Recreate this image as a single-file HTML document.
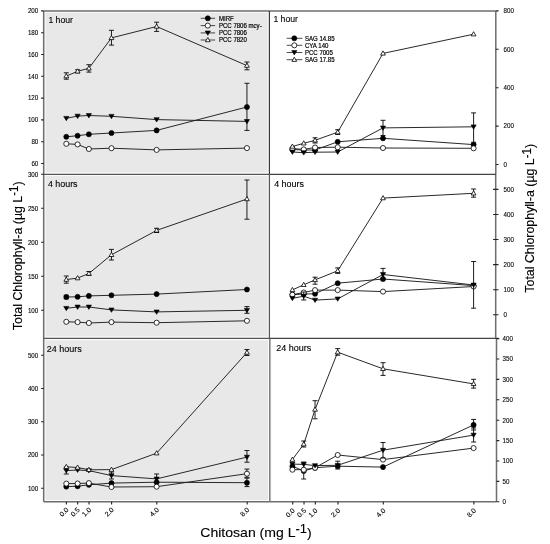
<!DOCTYPE html>
<html><head><meta charset="utf-8"><style>html,body{margin:0;padding:0;background:#fff;width:550px;height:544px;overflow:hidden}svg{display:block;filter:grayscale(1) blur(0.45px)}</style></head>
<body>
<svg width="550" height="544" viewBox="0 0 550 544" font-family='"Liberation Sans", sans-serif'>
<rect width="550" height="544" fill="#fff"/>
<rect x="43.7" y="10.95" width="225.7" height="490.75" fill="#e8e8e8"/>
<path d="M43.7,10.95H269.4M43.7,174.3H269.4M43.7,338.4H269.4M43.7,501.7H269.4M43.7,10.95V501.7M269.4,10.95V338.4M269.8,338.4V501.7" stroke="#fbfbfb" stroke-width="3.6" fill="none"/>
<g>
<polyline points="66.30,136.80 77.59,135.70 88.88,134.30 111.46,133.00 156.62,130.40 246.94,107.00" fill="none" stroke="#1e1e1e" stroke-width="0.95"/>
<path d="M246.94,83.30V130.40M244.44,83.30H249.44M244.44,130.40H249.44" stroke="#111" stroke-width="0.95" fill="none"/>
<ellipse cx="66.30" cy="136.80" rx="2.55" ry="2.55" fill="#000" stroke="#000" stroke-width="0.6"/>
<ellipse cx="77.59" cy="135.70" rx="2.55" ry="2.55" fill="#000" stroke="#000" stroke-width="0.6"/>
<ellipse cx="88.88" cy="134.30" rx="2.55" ry="2.55" fill="#000" stroke="#000" stroke-width="0.6"/>
<ellipse cx="111.46" cy="133.00" rx="2.55" ry="2.55" fill="#000" stroke="#000" stroke-width="0.6"/>
<ellipse cx="156.62" cy="130.40" rx="2.55" ry="2.55" fill="#000" stroke="#000" stroke-width="0.6"/>
<ellipse cx="246.94" cy="107.00" rx="2.55" ry="2.55" fill="#000" stroke="#000" stroke-width="0.6"/>
<polyline points="66.30,143.80 77.59,144.40 88.88,149.00 111.46,148.20 156.62,149.90 246.94,148.10" fill="none" stroke="#1e1e1e" stroke-width="0.95"/>
<ellipse cx="66.30" cy="143.80" rx="2.55" ry="2.55" fill="#fff" stroke="#000" stroke-width="0.8"/>
<ellipse cx="77.59" cy="144.40" rx="2.55" ry="2.55" fill="#fff" stroke="#000" stroke-width="0.8"/>
<ellipse cx="88.88" cy="149.00" rx="2.55" ry="2.55" fill="#fff" stroke="#000" stroke-width="0.8"/>
<ellipse cx="111.46" cy="148.20" rx="2.55" ry="2.55" fill="#fff" stroke="#000" stroke-width="0.8"/>
<ellipse cx="156.62" cy="149.90" rx="2.55" ry="2.55" fill="#fff" stroke="#000" stroke-width="0.8"/>
<ellipse cx="246.94" cy="148.10" rx="2.55" ry="2.55" fill="#fff" stroke="#000" stroke-width="0.8"/>
<polyline points="66.30,118.30 77.59,116.10 88.88,115.50 111.46,116.30 156.62,119.60 246.94,121.40" fill="none" stroke="#1e1e1e" stroke-width="0.95"/>
<path d="M63.70,116.40L68.90,116.40L66.30,120.70Z" fill="#000" stroke="#000" stroke-width="0.6"/>
<path d="M74.99,114.20L80.19,114.20L77.59,118.50Z" fill="#000" stroke="#000" stroke-width="0.6"/>
<path d="M86.28,113.60L91.48,113.60L88.88,117.90Z" fill="#000" stroke="#000" stroke-width="0.6"/>
<path d="M108.86,114.40L114.06,114.40L111.46,118.70Z" fill="#000" stroke="#000" stroke-width="0.6"/>
<path d="M154.02,117.70L159.22,117.70L156.62,122.00Z" fill="#000" stroke="#000" stroke-width="0.6"/>
<path d="M244.34,119.50L249.54,119.50L246.94,123.80Z" fill="#000" stroke="#000" stroke-width="0.6"/>
<polyline points="66.30,76.10 77.59,71.30 88.88,68.30 111.46,37.90 156.62,26.50 246.94,65.60" fill="none" stroke="#1e1e1e" stroke-width="0.95"/>
<path d="M66.30,72.80V79.20M63.80,72.80H68.80M63.80,79.20H68.80" stroke="#111" stroke-width="0.95" fill="none"/>
<path d="M77.59,69.80V72.80M75.09,69.80H80.09M75.09,72.80H80.09" stroke="#111" stroke-width="0.95" fill="none"/>
<path d="M88.88,64.70V72.10M86.38,64.70H91.38M86.38,72.10H91.38" stroke="#111" stroke-width="0.95" fill="none"/>
<path d="M111.46,30.30V45.10M108.96,30.30H113.96M108.96,45.10H113.96" stroke="#111" stroke-width="0.95" fill="none"/>
<path d="M156.62,22.20V31.40M154.12,22.20H159.12M154.12,31.40H159.12" stroke="#111" stroke-width="0.95" fill="none"/>
<path d="M246.94,62.00V69.80M244.44,62.00H249.44M244.44,69.80H249.44" stroke="#111" stroke-width="0.95" fill="none"/>
<path d="M63.90,77.80L68.70,77.80L66.30,73.60Z" fill="#fff" stroke="#000" stroke-width="0.8"/>
<path d="M75.19,73.00L79.99,73.00L77.59,68.80Z" fill="#fff" stroke="#000" stroke-width="0.8"/>
<path d="M86.48,70.00L91.28,70.00L88.88,65.80Z" fill="#fff" stroke="#000" stroke-width="0.8"/>
<path d="M109.06,39.60L113.86,39.60L111.46,35.40Z" fill="#fff" stroke="#000" stroke-width="0.8"/>
<path d="M154.22,28.20L159.02,28.20L156.62,24.00Z" fill="#fff" stroke="#000" stroke-width="0.8"/>
<path d="M244.54,67.30L249.34,67.30L246.94,63.10Z" fill="#fff" stroke="#000" stroke-width="0.8"/>
<polyline points="292.40,149.50 303.72,150.00 315.05,150.00 337.70,141.80 383.00,138.30 473.60,144.60" fill="none" stroke="#1e1e1e" stroke-width="0.95"/>
<ellipse cx="292.40" cy="149.50" rx="2.55" ry="2.55" fill="#000" stroke="#000" stroke-width="0.6"/>
<ellipse cx="303.72" cy="150.00" rx="2.55" ry="2.55" fill="#000" stroke="#000" stroke-width="0.6"/>
<ellipse cx="315.05" cy="150.00" rx="2.55" ry="2.55" fill="#000" stroke="#000" stroke-width="0.6"/>
<ellipse cx="337.70" cy="141.80" rx="2.55" ry="2.55" fill="#000" stroke="#000" stroke-width="0.6"/>
<ellipse cx="383.00" cy="138.30" rx="2.55" ry="2.55" fill="#000" stroke="#000" stroke-width="0.6"/>
<ellipse cx="473.60" cy="144.60" rx="2.55" ry="2.55" fill="#000" stroke="#000" stroke-width="0.6"/>
<polyline points="292.40,148.60 303.72,149.40 315.05,147.50 337.70,147.20 383.00,148.00 473.60,148.30" fill="none" stroke="#1e1e1e" stroke-width="0.95"/>
<ellipse cx="292.40" cy="148.60" rx="2.55" ry="2.55" fill="#fff" stroke="#000" stroke-width="0.8"/>
<ellipse cx="303.72" cy="149.40" rx="2.55" ry="2.55" fill="#fff" stroke="#000" stroke-width="0.8"/>
<ellipse cx="315.05" cy="147.50" rx="2.55" ry="2.55" fill="#fff" stroke="#000" stroke-width="0.8"/>
<ellipse cx="337.70" cy="147.20" rx="2.55" ry="2.55" fill="#fff" stroke="#000" stroke-width="0.8"/>
<ellipse cx="383.00" cy="148.00" rx="2.55" ry="2.55" fill="#fff" stroke="#000" stroke-width="0.8"/>
<ellipse cx="473.60" cy="148.30" rx="2.55" ry="2.55" fill="#fff" stroke="#000" stroke-width="0.8"/>
<polyline points="292.40,152.00 303.72,152.70 315.05,152.20 337.70,152.00 383.00,127.90 473.60,126.80" fill="none" stroke="#1e1e1e" stroke-width="0.95"/>
<path d="M383.00,120.30V135.50M380.50,120.30H385.50M380.50,135.50H385.50" stroke="#111" stroke-width="0.95" fill="none"/>
<path d="M473.60,112.90V142.30M471.10,112.90H476.10M471.10,142.30H476.10" stroke="#111" stroke-width="0.95" fill="none"/>
<path d="M289.80,150.10L295.00,150.10L292.40,154.40Z" fill="#000" stroke="#000" stroke-width="0.6"/>
<path d="M301.12,150.80L306.32,150.80L303.72,155.10Z" fill="#000" stroke="#000" stroke-width="0.6"/>
<path d="M312.45,150.30L317.65,150.30L315.05,154.60Z" fill="#000" stroke="#000" stroke-width="0.6"/>
<path d="M335.10,150.10L340.30,150.10L337.70,154.40Z" fill="#000" stroke="#000" stroke-width="0.6"/>
<path d="M380.40,126.00L385.60,126.00L383.00,130.30Z" fill="#000" stroke="#000" stroke-width="0.6"/>
<path d="M471.00,124.90L476.20,124.90L473.60,129.20Z" fill="#000" stroke="#000" stroke-width="0.6"/>
<polyline points="292.40,146.50 303.72,143.30 315.05,140.30 337.70,132.20 383.00,53.40 473.60,34.20" fill="none" stroke="#1e1e1e" stroke-width="0.95"/>
<path d="M315.05,137.80V143.00M312.55,137.80H317.55M312.55,143.00H317.55" stroke="#111" stroke-width="0.95" fill="none"/>
<path d="M337.70,129.70V134.50M335.20,129.70H340.20M335.20,134.50H340.20" stroke="#111" stroke-width="0.95" fill="none"/>
<path d="M290.00,148.20L294.80,148.20L292.40,144.00Z" fill="#fff" stroke="#000" stroke-width="0.8"/>
<path d="M301.32,145.00L306.12,145.00L303.72,140.80Z" fill="#fff" stroke="#000" stroke-width="0.8"/>
<path d="M312.65,142.00L317.45,142.00L315.05,137.80Z" fill="#fff" stroke="#000" stroke-width="0.8"/>
<path d="M335.30,133.90L340.10,133.90L337.70,129.70Z" fill="#fff" stroke="#000" stroke-width="0.8"/>
<path d="M380.60,55.10L385.40,55.10L383.00,50.90Z" fill="#fff" stroke="#000" stroke-width="0.8"/>
<path d="M471.20,35.90L476.00,35.90L473.60,31.70Z" fill="#fff" stroke="#000" stroke-width="0.8"/>
<polyline points="66.30,297.00 77.59,296.80 88.88,295.90 111.46,295.30 156.62,294.10 246.94,289.50" fill="none" stroke="#1e1e1e" stroke-width="0.95"/>
<path d="M66.30,295.20V298.80M63.80,295.20H68.80M63.80,298.80H68.80" stroke="#111" stroke-width="0.95" fill="none"/>
<ellipse cx="66.30" cy="297.00" rx="2.55" ry="2.55" fill="#000" stroke="#000" stroke-width="0.6"/>
<ellipse cx="77.59" cy="296.80" rx="2.55" ry="2.55" fill="#000" stroke="#000" stroke-width="0.6"/>
<ellipse cx="88.88" cy="295.90" rx="2.55" ry="2.55" fill="#000" stroke="#000" stroke-width="0.6"/>
<ellipse cx="111.46" cy="295.30" rx="2.55" ry="2.55" fill="#000" stroke="#000" stroke-width="0.6"/>
<ellipse cx="156.62" cy="294.10" rx="2.55" ry="2.55" fill="#000" stroke="#000" stroke-width="0.6"/>
<ellipse cx="246.94" cy="289.50" rx="2.55" ry="2.55" fill="#000" stroke="#000" stroke-width="0.6"/>
<polyline points="66.30,321.80 77.59,322.10 88.88,323.00 111.46,322.10 156.62,322.70 246.94,320.80" fill="none" stroke="#1e1e1e" stroke-width="0.95"/>
<ellipse cx="66.30" cy="321.80" rx="2.55" ry="2.55" fill="#fff" stroke="#000" stroke-width="0.8"/>
<ellipse cx="77.59" cy="322.10" rx="2.55" ry="2.55" fill="#fff" stroke="#000" stroke-width="0.8"/>
<ellipse cx="88.88" cy="323.00" rx="2.55" ry="2.55" fill="#fff" stroke="#000" stroke-width="0.8"/>
<ellipse cx="111.46" cy="322.10" rx="2.55" ry="2.55" fill="#fff" stroke="#000" stroke-width="0.8"/>
<ellipse cx="156.62" cy="322.70" rx="2.55" ry="2.55" fill="#fff" stroke="#000" stroke-width="0.8"/>
<ellipse cx="246.94" cy="320.80" rx="2.55" ry="2.55" fill="#fff" stroke="#000" stroke-width="0.8"/>
<polyline points="66.30,308.30 77.59,307.00 88.88,307.00 111.46,309.90 156.62,311.90 246.94,310.30" fill="none" stroke="#1e1e1e" stroke-width="0.95"/>
<path d="M246.94,306.60V313.30M244.44,306.60H249.44M244.44,313.30H249.44" stroke="#111" stroke-width="0.95" fill="none"/>
<path d="M63.70,306.40L68.90,306.40L66.30,310.70Z" fill="#000" stroke="#000" stroke-width="0.6"/>
<path d="M74.99,305.10L80.19,305.10L77.59,309.40Z" fill="#000" stroke="#000" stroke-width="0.6"/>
<path d="M86.28,305.10L91.48,305.10L88.88,309.40Z" fill="#000" stroke="#000" stroke-width="0.6"/>
<path d="M108.86,308.00L114.06,308.00L111.46,312.30Z" fill="#000" stroke="#000" stroke-width="0.6"/>
<path d="M154.02,310.00L159.22,310.00L156.62,314.30Z" fill="#000" stroke="#000" stroke-width="0.6"/>
<path d="M244.34,308.40L249.54,308.40L246.94,312.70Z" fill="#000" stroke="#000" stroke-width="0.6"/>
<polyline points="66.30,279.60 77.59,278.10 88.88,273.50 111.46,254.80 156.62,230.40 246.94,199.00" fill="none" stroke="#1e1e1e" stroke-width="0.95"/>
<path d="M66.30,276.00V283.20M63.80,276.00H68.80M63.80,283.20H68.80" stroke="#111" stroke-width="0.95" fill="none"/>
<path d="M88.88,271.50V275.50M86.38,271.50H91.38M86.38,275.50H91.38" stroke="#111" stroke-width="0.95" fill="none"/>
<path d="M111.46,249.40V260.00M108.96,249.40H113.96M108.96,260.00H113.96" stroke="#111" stroke-width="0.95" fill="none"/>
<path d="M156.62,228.30V232.50M154.12,228.30H159.12M154.12,232.50H159.12" stroke="#111" stroke-width="0.95" fill="none"/>
<path d="M246.94,180.00V219.20M244.44,180.00H249.44M244.44,219.20H249.44" stroke="#111" stroke-width="0.95" fill="none"/>
<path d="M63.90,281.30L68.70,281.30L66.30,277.10Z" fill="#fff" stroke="#000" stroke-width="0.8"/>
<path d="M75.19,279.80L79.99,279.80L77.59,275.60Z" fill="#fff" stroke="#000" stroke-width="0.8"/>
<path d="M86.48,275.20L91.28,275.20L88.88,271.00Z" fill="#fff" stroke="#000" stroke-width="0.8"/>
<path d="M109.06,256.50L113.86,256.50L111.46,252.30Z" fill="#fff" stroke="#000" stroke-width="0.8"/>
<path d="M154.22,232.10L159.02,232.10L156.62,227.90Z" fill="#fff" stroke="#000" stroke-width="0.8"/>
<path d="M244.54,200.70L249.34,200.70L246.94,196.50Z" fill="#fff" stroke="#000" stroke-width="0.8"/>
<polyline points="292.40,294.70 303.72,294.00 315.05,293.80 337.70,283.20 383.00,279.00 473.60,285.60" fill="none" stroke="#1e1e1e" stroke-width="0.95"/>
<ellipse cx="292.40" cy="294.70" rx="2.55" ry="2.55" fill="#000" stroke="#000" stroke-width="0.6"/>
<ellipse cx="303.72" cy="294.00" rx="2.55" ry="2.55" fill="#000" stroke="#000" stroke-width="0.6"/>
<ellipse cx="315.05" cy="293.80" rx="2.55" ry="2.55" fill="#000" stroke="#000" stroke-width="0.6"/>
<ellipse cx="337.70" cy="283.20" rx="2.55" ry="2.55" fill="#000" stroke="#000" stroke-width="0.6"/>
<ellipse cx="383.00" cy="279.00" rx="2.55" ry="2.55" fill="#000" stroke="#000" stroke-width="0.6"/>
<ellipse cx="473.60" cy="285.60" rx="2.55" ry="2.55" fill="#000" stroke="#000" stroke-width="0.6"/>
<polyline points="292.40,294.70 303.72,292.50 315.05,290.10 337.70,290.10 383.00,291.60 473.60,286.50" fill="none" stroke="#1e1e1e" stroke-width="0.95"/>
<ellipse cx="292.40" cy="294.70" rx="2.55" ry="2.55" fill="#fff" stroke="#000" stroke-width="0.8"/>
<ellipse cx="303.72" cy="292.50" rx="2.55" ry="2.55" fill="#fff" stroke="#000" stroke-width="0.8"/>
<ellipse cx="315.05" cy="290.10" rx="2.55" ry="2.55" fill="#fff" stroke="#000" stroke-width="0.8"/>
<ellipse cx="337.70" cy="290.10" rx="2.55" ry="2.55" fill="#fff" stroke="#000" stroke-width="0.8"/>
<ellipse cx="383.00" cy="291.60" rx="2.55" ry="2.55" fill="#fff" stroke="#000" stroke-width="0.8"/>
<ellipse cx="473.60" cy="286.50" rx="2.55" ry="2.55" fill="#fff" stroke="#000" stroke-width="0.8"/>
<polyline points="292.40,298.30 303.72,296.20 315.05,300.10 337.70,298.90 383.00,274.50 473.60,285.00" fill="none" stroke="#1e1e1e" stroke-width="0.95"/>
<path d="M303.72,292.00V300.00M301.22,292.00H306.22M301.22,300.00H306.22" stroke="#111" stroke-width="0.95" fill="none"/>
<path d="M383.00,268.40V280.00M380.50,268.40H385.50M380.50,280.00H385.50" stroke="#111" stroke-width="0.95" fill="none"/>
<path d="M473.60,261.50V308.20M471.10,261.50H476.10M471.10,308.20H476.10" stroke="#111" stroke-width="0.95" fill="none"/>
<path d="M289.80,296.40L295.00,296.40L292.40,300.70Z" fill="#000" stroke="#000" stroke-width="0.6"/>
<path d="M301.12,294.30L306.32,294.30L303.72,298.60Z" fill="#000" stroke="#000" stroke-width="0.6"/>
<path d="M312.45,298.20L317.65,298.20L315.05,302.50Z" fill="#000" stroke="#000" stroke-width="0.6"/>
<path d="M335.10,297.00L340.30,297.00L337.70,301.30Z" fill="#000" stroke="#000" stroke-width="0.6"/>
<path d="M380.40,272.60L385.60,272.60L383.00,276.90Z" fill="#000" stroke="#000" stroke-width="0.6"/>
<path d="M471.00,283.10L476.20,283.10L473.60,287.40Z" fill="#000" stroke="#000" stroke-width="0.6"/>
<polyline points="292.40,289.90 303.72,284.80 315.05,279.90 337.70,270.80 383.00,198.10 473.60,193.30" fill="none" stroke="#1e1e1e" stroke-width="0.95"/>
<path d="M315.05,277.20V284.20M312.55,277.20H317.55M312.55,284.20H317.55" stroke="#111" stroke-width="0.95" fill="none"/>
<path d="M337.70,267.90V273.40M335.20,267.90H340.20M335.20,273.40H340.20" stroke="#111" stroke-width="0.95" fill="none"/>
<path d="M473.60,189.00V197.20M471.10,189.00H476.10M471.10,197.20H476.10" stroke="#111" stroke-width="0.95" fill="none"/>
<path d="M290.00,291.60L294.80,291.60L292.40,287.40Z" fill="#fff" stroke="#000" stroke-width="0.8"/>
<path d="M301.32,286.50L306.12,286.50L303.72,282.30Z" fill="#fff" stroke="#000" stroke-width="0.8"/>
<path d="M312.65,281.60L317.45,281.60L315.05,277.40Z" fill="#fff" stroke="#000" stroke-width="0.8"/>
<path d="M335.30,272.50L340.10,272.50L337.70,268.30Z" fill="#fff" stroke="#000" stroke-width="0.8"/>
<path d="M380.60,199.80L385.40,199.80L383.00,195.60Z" fill="#fff" stroke="#000" stroke-width="0.8"/>
<path d="M471.20,195.00L476.00,195.00L473.60,190.80Z" fill="#fff" stroke="#000" stroke-width="0.8"/>
<polyline points="66.30,486.60 77.59,486.20 88.88,484.80 111.46,483.10 156.62,482.20 246.94,482.70" fill="none" stroke="#1e1e1e" stroke-width="0.95"/>
<path d="M246.94,478.20V486.60M244.44,478.20H249.44M244.44,486.60H249.44" stroke="#111" stroke-width="0.95" fill="none"/>
<ellipse cx="66.30" cy="486.60" rx="2.55" ry="2.55" fill="#000" stroke="#000" stroke-width="0.6"/>
<ellipse cx="77.59" cy="486.20" rx="2.55" ry="2.55" fill="#000" stroke="#000" stroke-width="0.6"/>
<ellipse cx="88.88" cy="484.80" rx="2.55" ry="2.55" fill="#000" stroke="#000" stroke-width="0.6"/>
<ellipse cx="111.46" cy="483.10" rx="2.55" ry="2.55" fill="#000" stroke="#000" stroke-width="0.6"/>
<ellipse cx="156.62" cy="482.20" rx="2.55" ry="2.55" fill="#000" stroke="#000" stroke-width="0.6"/>
<ellipse cx="246.94" cy="482.70" rx="2.55" ry="2.55" fill="#000" stroke="#000" stroke-width="0.6"/>
<polyline points="66.30,483.60 77.59,483.50 88.88,483.10 111.46,487.00 156.62,486.70 246.94,473.70" fill="none" stroke="#1e1e1e" stroke-width="0.95"/>
<path d="M246.94,469.10V477.30M244.44,469.10H249.44M244.44,477.30H249.44" stroke="#111" stroke-width="0.95" fill="none"/>
<ellipse cx="66.30" cy="483.60" rx="2.55" ry="2.55" fill="#fff" stroke="#000" stroke-width="0.8"/>
<ellipse cx="77.59" cy="483.50" rx="2.55" ry="2.55" fill="#fff" stroke="#000" stroke-width="0.8"/>
<ellipse cx="88.88" cy="483.10" rx="2.55" ry="2.55" fill="#fff" stroke="#000" stroke-width="0.8"/>
<ellipse cx="111.46" cy="487.00" rx="2.55" ry="2.55" fill="#fff" stroke="#000" stroke-width="0.8"/>
<ellipse cx="156.62" cy="486.70" rx="2.55" ry="2.55" fill="#fff" stroke="#000" stroke-width="0.8"/>
<ellipse cx="246.94" cy="473.70" rx="2.55" ry="2.55" fill="#fff" stroke="#000" stroke-width="0.8"/>
<polyline points="66.30,470.60 77.59,470.00 88.88,470.60 111.46,475.60 156.62,478.90 246.94,457.10" fill="none" stroke="#1e1e1e" stroke-width="0.95"/>
<path d="M66.30,467.00V474.00M63.80,467.00H68.80M63.80,474.00H68.80" stroke="#111" stroke-width="0.95" fill="none"/>
<path d="M111.46,472.00V479.00M108.96,472.00H113.96M108.96,479.00H113.96" stroke="#111" stroke-width="0.95" fill="none"/>
<path d="M156.62,474.00V482.00M154.12,474.00H159.12M154.12,482.00H159.12" stroke="#111" stroke-width="0.95" fill="none"/>
<path d="M246.94,450.50V462.20M244.44,450.50H249.44M244.44,462.20H249.44" stroke="#111" stroke-width="0.95" fill="none"/>
<path d="M63.70,468.70L68.90,468.70L66.30,473.00Z" fill="#000" stroke="#000" stroke-width="0.6"/>
<path d="M74.99,468.10L80.19,468.10L77.59,472.40Z" fill="#000" stroke="#000" stroke-width="0.6"/>
<path d="M86.28,468.70L91.48,468.70L88.88,473.00Z" fill="#000" stroke="#000" stroke-width="0.6"/>
<path d="M108.86,473.70L114.06,473.70L111.46,478.00Z" fill="#000" stroke="#000" stroke-width="0.6"/>
<path d="M154.02,477.00L159.22,477.00L156.62,481.30Z" fill="#000" stroke="#000" stroke-width="0.6"/>
<path d="M244.34,455.20L249.54,455.20L246.94,459.50Z" fill="#000" stroke="#000" stroke-width="0.6"/>
<polyline points="66.30,466.80 77.59,467.50 88.88,469.80 111.46,469.60 156.62,453.20 246.94,352.50" fill="none" stroke="#1e1e1e" stroke-width="0.95"/>
<path d="M246.94,349.50V355.50M244.44,349.50H249.44M244.44,355.50H249.44" stroke="#111" stroke-width="0.95" fill="none"/>
<path d="M63.90,468.50L68.70,468.50L66.30,464.30Z" fill="#fff" stroke="#000" stroke-width="0.8"/>
<path d="M75.19,469.20L79.99,469.20L77.59,465.00Z" fill="#fff" stroke="#000" stroke-width="0.8"/>
<path d="M86.48,471.50L91.28,471.50L88.88,467.30Z" fill="#fff" stroke="#000" stroke-width="0.8"/>
<path d="M109.06,471.30L113.86,471.30L111.46,467.10Z" fill="#fff" stroke="#000" stroke-width="0.8"/>
<path d="M154.22,454.90L159.02,454.90L156.62,450.70Z" fill="#fff" stroke="#000" stroke-width="0.8"/>
<path d="M244.54,354.20L249.34,354.20L246.94,350.00Z" fill="#fff" stroke="#000" stroke-width="0.8"/>
<polyline points="292.40,466.20 303.72,471.00 315.05,467.70 337.70,466.20 383.00,467.10 473.60,424.90" fill="none" stroke="#1e1e1e" stroke-width="0.95"/>
<path d="M473.60,419.40V430.00M471.10,419.40H476.10M471.10,430.00H476.10" stroke="#111" stroke-width="0.95" fill="none"/>
<ellipse cx="292.40" cy="466.20" rx="2.55" ry="2.55" fill="#000" stroke="#000" stroke-width="0.6"/>
<ellipse cx="303.72" cy="471.00" rx="2.55" ry="2.55" fill="#000" stroke="#000" stroke-width="0.6"/>
<ellipse cx="315.05" cy="467.70" rx="2.55" ry="2.55" fill="#000" stroke="#000" stroke-width="0.6"/>
<ellipse cx="337.70" cy="466.20" rx="2.55" ry="2.55" fill="#000" stroke="#000" stroke-width="0.6"/>
<ellipse cx="383.00" cy="467.10" rx="2.55" ry="2.55" fill="#000" stroke="#000" stroke-width="0.6"/>
<ellipse cx="473.60" cy="424.90" rx="2.55" ry="2.55" fill="#000" stroke="#000" stroke-width="0.6"/>
<polyline points="292.40,469.70 303.72,469.70 315.05,467.80 337.70,455.00 383.00,459.60 473.60,448.10" fill="none" stroke="#1e1e1e" stroke-width="0.95"/>
<path d="M303.72,462.00V479.00M301.22,462.00H306.22M301.22,479.00H306.22" stroke="#111" stroke-width="0.95" fill="none"/>
<ellipse cx="292.40" cy="469.70" rx="2.55" ry="2.55" fill="#fff" stroke="#000" stroke-width="0.8"/>
<ellipse cx="303.72" cy="469.70" rx="2.55" ry="2.55" fill="#fff" stroke="#000" stroke-width="0.8"/>
<ellipse cx="315.05" cy="467.80" rx="2.55" ry="2.55" fill="#fff" stroke="#000" stroke-width="0.8"/>
<ellipse cx="337.70" cy="455.00" rx="2.55" ry="2.55" fill="#fff" stroke="#000" stroke-width="0.8"/>
<ellipse cx="383.00" cy="459.60" rx="2.55" ry="2.55" fill="#fff" stroke="#000" stroke-width="0.8"/>
<ellipse cx="473.60" cy="448.10" rx="2.55" ry="2.55" fill="#fff" stroke="#000" stroke-width="0.8"/>
<polyline points="292.40,464.10 303.72,464.40 315.05,465.60 337.70,465.30 383.00,450.20 473.60,435.10" fill="none" stroke="#1e1e1e" stroke-width="0.95"/>
<path d="M337.70,461.20V469.00M335.20,461.20H340.20M335.20,469.00H340.20" stroke="#111" stroke-width="0.95" fill="none"/>
<path d="M383.00,442.50V458.00M380.50,442.50H385.50M380.50,458.00H385.50" stroke="#111" stroke-width="0.95" fill="none"/>
<path d="M473.60,428.00V442.00M471.10,428.00H476.10M471.10,442.00H476.10" stroke="#111" stroke-width="0.95" fill="none"/>
<path d="M289.80,462.20L295.00,462.20L292.40,466.50Z" fill="#000" stroke="#000" stroke-width="0.6"/>
<path d="M301.12,462.50L306.32,462.50L303.72,466.80Z" fill="#000" stroke="#000" stroke-width="0.6"/>
<path d="M312.45,463.70L317.65,463.70L315.05,468.00Z" fill="#000" stroke="#000" stroke-width="0.6"/>
<path d="M335.10,463.40L340.30,463.40L337.70,467.70Z" fill="#000" stroke="#000" stroke-width="0.6"/>
<path d="M380.40,448.30L385.60,448.30L383.00,452.60Z" fill="#000" stroke="#000" stroke-width="0.6"/>
<path d="M471.00,433.20L476.20,433.20L473.60,437.50Z" fill="#000" stroke="#000" stroke-width="0.6"/>
<polyline points="292.40,459.60 303.72,444.20 315.05,409.50 337.70,352.20 383.00,368.80 473.60,383.90" fill="none" stroke="#1e1e1e" stroke-width="0.95"/>
<path d="M303.72,441.00V447.00M301.22,441.00H306.22M301.22,447.00H306.22" stroke="#111" stroke-width="0.95" fill="none"/>
<path d="M315.05,400.70V418.80M312.55,400.70H317.55M312.55,418.80H317.55" stroke="#111" stroke-width="0.95" fill="none"/>
<path d="M337.70,348.60V355.20M335.20,348.60H340.20M335.20,355.20H340.20" stroke="#111" stroke-width="0.95" fill="none"/>
<path d="M383.00,362.70V375.40M380.50,362.70H385.50M380.50,375.40H385.50" stroke="#111" stroke-width="0.95" fill="none"/>
<path d="M473.60,379.30V388.10M471.10,379.30H476.10M471.10,388.10H476.10" stroke="#111" stroke-width="0.95" fill="none"/>
<path d="M290.00,461.30L294.80,461.30L292.40,457.10Z" fill="#fff" stroke="#000" stroke-width="0.8"/>
<path d="M301.32,445.90L306.12,445.90L303.72,441.70Z" fill="#fff" stroke="#000" stroke-width="0.8"/>
<path d="M312.65,411.20L317.45,411.20L315.05,407.00Z" fill="#fff" stroke="#000" stroke-width="0.8"/>
<path d="M335.30,353.90L340.10,353.90L337.70,349.70Z" fill="#fff" stroke="#000" stroke-width="0.8"/>
<path d="M380.60,370.50L385.40,370.50L383.00,366.30Z" fill="#fff" stroke="#000" stroke-width="0.8"/>
<path d="M471.20,385.60L476.00,385.60L473.60,381.40Z" fill="#fff" stroke="#000" stroke-width="0.8"/>
</g>
<path d="M43.7,10.95H495.8 M43.7,501.7H496.5 M43.7,10.95V501.7 M495.8,10.95V174.3 M495.7,174.3V338.4 M496.5,338.4V501.7" stroke="#6e6e6e" stroke-width="1.5" fill="none"/>
<path d="M269.8,338.4V501.7" stroke="#7a7a7a" stroke-width="1.5" fill="none"/>
<path d="M43.7,174.3H269.4M43.7,338.4H269.4" stroke="#555" stroke-width="1.3" fill="none"/>
<path d="M269.4,174.3H495.8M269.4,338.4H498.5" stroke="#444" stroke-width="1.2" fill="none"/>
<path d="M269.4,10.95V174.3" stroke="#3a3a3a" stroke-width="1.2" fill="none"/>
<path d="M269.4,174.3V338.4" stroke="#555" stroke-width="1.2" fill="none"/>
<text transform="translate(38.30,13.20) scale(0.93,1)" font-size="6.7" text-anchor="end" stroke="#000" stroke-width="0.1">200</text>
<text transform="translate(38.30,35.00) scale(0.93,1)" font-size="6.7" text-anchor="end" stroke="#000" stroke-width="0.1">180</text>
<text transform="translate(38.30,56.80) scale(0.93,1)" font-size="6.7" text-anchor="end" stroke="#000" stroke-width="0.1">160</text>
<text transform="translate(38.30,78.60) scale(0.93,1)" font-size="6.7" text-anchor="end" stroke="#000" stroke-width="0.1">140</text>
<text transform="translate(38.30,100.40) scale(0.93,1)" font-size="6.7" text-anchor="end" stroke="#000" stroke-width="0.1">120</text>
<text transform="translate(38.30,122.20) scale(0.93,1)" font-size="6.7" text-anchor="end" stroke="#000" stroke-width="0.1">100</text>
<text transform="translate(38.30,144.00) scale(0.93,1)" font-size="6.7" text-anchor="end" stroke="#000" stroke-width="0.1">80</text>
<text transform="translate(38.30,165.80) scale(0.93,1)" font-size="6.7" text-anchor="end" stroke="#000" stroke-width="0.1">60</text>
<path d="M41.10,10.90H43.70 M41.10,32.70H43.70 M41.10,54.50H43.70 M41.10,76.30H43.70 M41.10,98.10H43.70 M41.10,119.90H43.70 M41.10,141.70H43.70 M41.10,163.50H43.70" stroke="#222" stroke-width="1.1"/>
<text transform="translate(38.30,176.60) scale(0.93,1)" font-size="6.7" text-anchor="end" stroke="#000" stroke-width="0.1">300</text>
<text transform="translate(38.30,210.60) scale(0.93,1)" font-size="6.7" text-anchor="end" stroke="#000" stroke-width="0.1">250</text>
<text transform="translate(38.30,244.60) scale(0.93,1)" font-size="6.7" text-anchor="end" stroke="#000" stroke-width="0.1">200</text>
<text transform="translate(38.30,278.60) scale(0.93,1)" font-size="6.7" text-anchor="end" stroke="#000" stroke-width="0.1">150</text>
<text transform="translate(38.30,312.60) scale(0.93,1)" font-size="6.7" text-anchor="end" stroke="#000" stroke-width="0.1">100</text>
<path d="M41.10,174.30H43.70 M41.10,208.30H43.70 M41.10,242.30H43.70 M41.10,276.30H43.70 M41.10,310.30H43.70" stroke="#222" stroke-width="1.1"/>
<text transform="translate(38.30,357.50) scale(0.93,1)" font-size="6.7" text-anchor="end" stroke="#000" stroke-width="0.1">500</text>
<text transform="translate(38.30,390.75) scale(0.93,1)" font-size="6.7" text-anchor="end" stroke="#000" stroke-width="0.1">400</text>
<text transform="translate(38.30,424.00) scale(0.93,1)" font-size="6.7" text-anchor="end" stroke="#000" stroke-width="0.1">300</text>
<text transform="translate(38.30,457.25) scale(0.93,1)" font-size="6.7" text-anchor="end" stroke="#000" stroke-width="0.1">200</text>
<text transform="translate(38.30,490.50) scale(0.93,1)" font-size="6.7" text-anchor="end" stroke="#000" stroke-width="0.1">100</text>
<path d="M41.10,355.20H43.70 M41.10,388.45H43.70 M41.10,421.70H43.70 M41.10,454.95H43.70 M41.10,488.20H43.70" stroke="#222" stroke-width="1.1"/>
<text transform="translate(503.60,13.20) scale(0.93,1)" font-size="6.7" text-anchor="start" stroke="#000" stroke-width="0.1">800</text>
<text transform="translate(503.60,51.60) scale(0.93,1)" font-size="6.7" text-anchor="start" stroke="#000" stroke-width="0.1">600</text>
<text transform="translate(503.60,90.00) scale(0.93,1)" font-size="6.7" text-anchor="start" stroke="#000" stroke-width="0.1">400</text>
<text transform="translate(503.60,128.40) scale(0.93,1)" font-size="6.7" text-anchor="start" stroke="#000" stroke-width="0.1">200</text>
<text transform="translate(503.60,166.80) scale(0.93,1)" font-size="6.7" text-anchor="start" stroke="#000" stroke-width="0.1">0</text>
<path d="M495.80,10.90H498.60 M495.80,49.30H498.60 M495.80,87.70H498.60 M495.80,126.10H498.60 M495.80,164.50H498.60" stroke="#222" stroke-width="1.1"/>
<text transform="translate(503.50,191.70) scale(0.93,1)" font-size="6.7" text-anchor="start" stroke="#000" stroke-width="0.1">500</text>
<text transform="translate(503.50,216.78) scale(0.93,1)" font-size="6.7" text-anchor="start" stroke="#000" stroke-width="0.1">400</text>
<text transform="translate(503.50,241.86) scale(0.93,1)" font-size="6.7" text-anchor="start" stroke="#000" stroke-width="0.1">300</text>
<text transform="translate(503.50,266.94) scale(0.93,1)" font-size="6.7" text-anchor="start" stroke="#000" stroke-width="0.1">200</text>
<text transform="translate(503.50,292.02) scale(0.93,1)" font-size="6.7" text-anchor="start" stroke="#000" stroke-width="0.1">100</text>
<text transform="translate(503.50,317.10) scale(0.93,1)" font-size="6.7" text-anchor="start" stroke="#000" stroke-width="0.1">0</text>
<path d="M493.10,189.40H498.50 M493.10,214.48H498.50 M493.10,239.56H498.50 M493.10,264.64H498.50 M493.10,289.72H498.50 M493.10,314.80H498.50" stroke="#222" stroke-width="1.1"/>
<text transform="translate(502.50,340.90) scale(0.93,1)" font-size="6.7" text-anchor="start" stroke="#000" stroke-width="0.1">400</text>
<text transform="translate(502.50,361.30) scale(0.93,1)" font-size="6.7" text-anchor="start" stroke="#000" stroke-width="0.1">350</text>
<text transform="translate(502.50,381.70) scale(0.93,1)" font-size="6.7" text-anchor="start" stroke="#000" stroke-width="0.1">300</text>
<text transform="translate(502.50,402.10) scale(0.93,1)" font-size="6.7" text-anchor="start" stroke="#000" stroke-width="0.1">250</text>
<text transform="translate(502.50,422.50) scale(0.93,1)" font-size="6.7" text-anchor="start" stroke="#000" stroke-width="0.1">200</text>
<text transform="translate(502.50,442.90) scale(0.93,1)" font-size="6.7" text-anchor="start" stroke="#000" stroke-width="0.1">150</text>
<text transform="translate(502.50,463.30) scale(0.93,1)" font-size="6.7" text-anchor="start" stroke="#000" stroke-width="0.1">100</text>
<text transform="translate(502.50,483.70) scale(0.93,1)" font-size="6.7" text-anchor="start" stroke="#000" stroke-width="0.1">50</text>
<text transform="translate(502.50,504.10) scale(0.93,1)" font-size="6.7" text-anchor="start" stroke="#000" stroke-width="0.1">0</text>
<path d="M496.50,338.60H499.30 M496.50,359.00H499.30 M496.50,379.40H499.30 M496.50,399.80H499.30 M496.50,420.20H499.30 M496.50,440.60H499.30 M496.50,461.00H499.30 M496.50,481.40H499.30 M496.50,501.80H499.30" stroke="#222" stroke-width="1.1"/>
<text transform="translate(69.00,510.20) scale(1.0,1) rotate(-45)" font-size="6.9" text-anchor="end" stroke="#000" stroke-width="0.12">0.0</text>
<text transform="translate(80.30,510.20) scale(1.0,1) rotate(-45)" font-size="6.9" text-anchor="end" stroke="#000" stroke-width="0.12">0.5</text>
<text transform="translate(91.60,510.20) scale(1.0,1) rotate(-45)" font-size="6.9" text-anchor="end" stroke="#000" stroke-width="0.12">1.0</text>
<text transform="translate(114.20,510.20) scale(1.0,1) rotate(-45)" font-size="6.9" text-anchor="end" stroke="#000" stroke-width="0.12">2.0</text>
<text transform="translate(159.40,510.20) scale(1.0,1) rotate(-45)" font-size="6.9" text-anchor="end" stroke="#000" stroke-width="0.12">4.0</text>
<text transform="translate(249.80,510.20) scale(1.0,1) rotate(-45)" font-size="6.9" text-anchor="end" stroke="#000" stroke-width="0.12">8.0</text>
<text transform="translate(295.30,511.00) scale(1.0,1) rotate(-45)" font-size="6.9" text-anchor="end" stroke="#000" stroke-width="0.12">0.0</text>
<text transform="translate(306.62,511.00) scale(1.0,1) rotate(-45)" font-size="6.9" text-anchor="end" stroke="#000" stroke-width="0.12">0.5</text>
<text transform="translate(317.95,511.00) scale(1.0,1) rotate(-45)" font-size="6.9" text-anchor="end" stroke="#000" stroke-width="0.12">1.0</text>
<text transform="translate(340.60,511.00) scale(1.0,1) rotate(-45)" font-size="6.9" text-anchor="end" stroke="#000" stroke-width="0.12">2.0</text>
<text transform="translate(385.90,511.00) scale(1.0,1) rotate(-45)" font-size="6.9" text-anchor="end" stroke="#000" stroke-width="0.12">4.0</text>
<text transform="translate(476.50,511.00) scale(1.0,1) rotate(-45)" font-size="6.9" text-anchor="end" stroke="#000" stroke-width="0.12">8.0</text>
<path d="M66.40,501.7V504.60 M77.70,501.7V504.60 M89.00,501.7V504.60 M111.60,501.7V504.60 M156.80,501.7V504.60 M247.20,501.7V504.60 M292.70,501.7V504.60 M304.02,501.7V504.60 M315.35,501.7V504.60 M338.00,501.7V504.60 M383.30,501.7V504.60 M473.90,501.7V504.60" stroke="#222" stroke-width="1.1"/>
<text transform="translate(48.40,22.60) scale(0.96,1)" font-size="9.0" text-anchor="start" stroke="#000" stroke-width="0.12">1 hour</text>
<text transform="translate(273.40,22.20) scale(0.96,1)" font-size="9.0" text-anchor="start" stroke="#000" stroke-width="0.12">1 hour</text>
<text transform="translate(47.90,186.90) scale(0.99,1)" font-size="9.0" text-anchor="start" stroke="#000" stroke-width="0.12">4 hours</text>
<text transform="translate(274.20,186.90) scale(0.99,1)" font-size="9.0" text-anchor="start" stroke="#000" stroke-width="0.12">4 hours</text>
<text transform="translate(46.80,351.90) scale(1.0,1)" font-size="9.0" text-anchor="start" stroke="#000" stroke-width="0.12">24 hours</text>
<text transform="translate(276.30,351.30) scale(1.0,1)" font-size="9.0" text-anchor="start" stroke="#000" stroke-width="0.12">24 hours</text>
<path d="M200.70,18.30H215.10" stroke="#1e1e1e" stroke-width="0.8"/>
<ellipse cx="207.80" cy="18.30" rx="2.55" ry="2.55" fill="#000" stroke="#000" stroke-width="0.6"/>
<text transform="translate(218.90,20.60) scale(0.92,1)" font-size="6.6" text-anchor="start" stroke="#000" stroke-width="0.2">MIRF</text>
<path d="M200.70,25.60H215.10" stroke="#1e1e1e" stroke-width="0.8"/>
<ellipse cx="207.80" cy="25.60" rx="2.55" ry="2.55" fill="#fff" stroke="#000" stroke-width="0.8"/>
<text transform="translate(218.90,27.90) scale(0.92,1)" font-size="6.6" text-anchor="start" stroke="#000" stroke-width="0.2">PCC 7806 mcy-</text>
<path d="M200.70,32.90H215.10" stroke="#1e1e1e" stroke-width="0.8"/>
<path d="M205.20,31.00L210.40,31.00L207.80,35.30Z" fill="#000" stroke="#000" stroke-width="0.6"/>
<text transform="translate(218.90,35.20) scale(0.92,1)" font-size="6.6" text-anchor="start" stroke="#000" stroke-width="0.2">PCC 7806</text>
<path d="M200.70,40.00H215.10" stroke="#1e1e1e" stroke-width="0.8"/>
<path d="M205.40,41.70L210.20,41.70L207.80,37.50Z" fill="#fff" stroke="#000" stroke-width="0.8"/>
<text transform="translate(218.90,42.30) scale(0.92,1)" font-size="6.6" text-anchor="start" stroke="#000" stroke-width="0.2">PCC 7820</text>
<path d="M286.70,38.30H302.40" stroke="#1e1e1e" stroke-width="0.8"/>
<ellipse cx="294.30" cy="38.30" rx="2.55" ry="2.55" fill="#000" stroke="#000" stroke-width="0.6"/>
<text transform="translate(304.90,40.60) scale(0.92,1)" font-size="6.6" text-anchor="start" stroke="#000" stroke-width="0.2">SAG 14.85</text>
<path d="M286.70,45.30H302.40" stroke="#1e1e1e" stroke-width="0.8"/>
<ellipse cx="294.30" cy="45.30" rx="2.55" ry="2.55" fill="#fff" stroke="#000" stroke-width="0.8"/>
<text transform="translate(304.90,47.60) scale(0.92,1)" font-size="6.6" text-anchor="start" stroke="#000" stroke-width="0.2">CYA 140</text>
<path d="M286.70,52.50H302.40" stroke="#1e1e1e" stroke-width="0.8"/>
<path d="M291.70,50.60L296.90,50.60L294.30,54.90Z" fill="#000" stroke="#000" stroke-width="0.6"/>
<text transform="translate(304.90,54.80) scale(0.92,1)" font-size="6.6" text-anchor="start" stroke="#000" stroke-width="0.2">PCC 7005</text>
<path d="M286.70,59.70H302.40" stroke="#1e1e1e" stroke-width="0.8"/>
<path d="M291.90,61.40L296.70,61.40L294.30,57.20Z" fill="#fff" stroke="#000" stroke-width="0.8"/>
<text transform="translate(304.90,62.00) scale(0.92,1)" font-size="6.6" text-anchor="start" stroke="#000" stroke-width="0.2">SAG 17.85</text>
<text transform="translate(200.30,536.90) scale(1.04,1)" font-size="13.5" text-anchor="start" stroke="#000" stroke-width="0.12">Chitosan (mg L<tspan font-size="12.5" dy="-3.5">-1</tspan><tspan dy="3.5">)</tspan></text>
<text transform="translate(21.80,330.20) scale(1.1,1) rotate(-90)" font-size="12.4" text-anchor="start" stroke="#000" stroke-width="0.12">Total Chlorophyll-a (µg L<tspan font-size="11.5" dy="-3.3">-1</tspan><tspan dy="3.3">)</tspan></text>
<text transform="translate(534.40,292.70) scale(1.1,1) rotate(-90)" font-size="12.4" text-anchor="start" stroke="#000" stroke-width="0.12">Total Chlorophyll-a (µg L<tspan font-size="11.5" dy="-3.3">-1</tspan><tspan dy="3.3">)</tspan></text>
</svg>
</body></html>
